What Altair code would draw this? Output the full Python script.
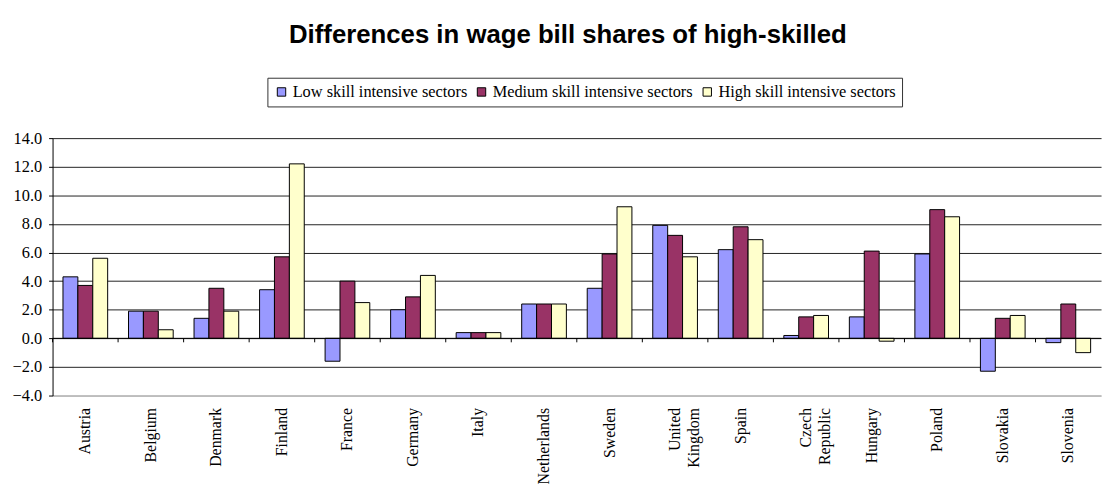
import altair as alt
import pandas as pd

countries = ["Austria", "Belgium", "Denmark", "Finland", "France", "Germany", "Italy",
             "Netherlands", "Sweden", "United Kingdom", "Spain", "Czech Republic",
             "Hungary", "Poland", "Slovakia", "Slovenia"]
series = ["Low skill intensive sectors", "Medium skill intensive sectors",
          "High skill intensive sectors"]
low = [4.3, 1.9, 1.4, 3.4, -1.6, 2.0, 0.4, 2.4, 3.5, 7.9, 6.2, 0.2, 1.5, 5.9, -2.3, -0.3]
medium = [3.7, 1.9, 3.5, 5.7, 4.0, 2.9, 0.4, 2.4, 5.9, 7.2, 7.8, 1.5, 6.1, 9.0, 1.4, 2.4]
high = [5.6, 0.6, 1.9, 12.2, 2.5, 4.4, 0.4, 2.4, 9.2, 5.7, 6.9, 1.6, -0.2, 8.5, 1.6, -1.0]
colors = ["#9999FF", "#993366", "#FFFFCC"]
y_ticks = [-4, -2, 0, 2, 4, 6, 8, 10, 12, 14]

rows = []
for vals, s in zip([low, medium, high], series):
    for c, v in zip(countries, vals):
        rows.append({"country": c, "series": s, "value": v})
df = pd.DataFrame(rows)

serif = "Liberation Serif"
label_expr = ("datum.label == 'United Kingdom' ? ['United', 'Kingdom'] : "
              "datum.label == 'Czech Republic' ? ['Czech', 'Republic'] : datum.label")

x_axis = alt.Axis(title=None, labelAngle=270, labelAlign="right", labelBaseline="middle",
                  ticks=False, domain=True,
                  domainColor="#aaaaaa", labelFont=serif, labelFontSize=16,
                  labelColor="black", labelPadding=12, labelLineHeight=19,
                  labelExpr=label_expr, labelLimit=300, labelOverlap=False)
x_scale = alt.Scale(paddingInner=0, paddingOuter=0)

y_axis = alt.Axis(values=y_ticks, tickCount=10, format=".1f", title=None, grid=True,
                  gridColor=alt.condition("datum.value === -4", alt.value("#aaaaaa"),
                                          alt.value("#222222")),
                  tickColor="black", domainColor="black", tickSize=4,
                  labelFont=serif, labelFontSize=16.5, labelColor="black", labelPadding=7,
                  labelOverlap=False)
y_scale = alt.Scale(domain=[-4, 14], nice=False)

bars = alt.Chart(df).mark_bar(stroke="black", strokeWidth=1).encode(
    x=alt.X("country:N", sort=countries, scale=x_scale, axis=x_axis),
    xOffset=alt.XOffset("series:N", sort=series,
                        scale=alt.Scale(paddingInner=0, paddingOuter=0.7)),
    y=alt.Y("value:Q", scale=y_scale, axis=y_axis),
    fill=alt.Fill("series:N", sort=series,
                  scale=alt.Scale(domain=series, range=colors),
                  legend=alt.Legend(orient="none", legendX=217, legendY=-61,
                                    direction="horizontal", title=None,
                                    labelFont=serif, labelFontSize=16.5, labelColor="black",
                                    symbolType="square", symbolSize=72,
                                    symbolStrokeColor="black", symbolStrokeWidth=1,
                                    strokeColor="#333333", padding=6, columnPadding=6,
                                    labelOffset=3, labelLimit=400)),
)

zero = alt.Chart(pd.DataFrame({"z": [0]})).mark_rule(color="black", strokeWidth=1).encode(
    y=alt.Y("z:Q", scale=y_scale, axis=y_axis)
)

ticks = alt.Chart(pd.DataFrame({"country": countries, "z": [0] * len(countries)})).mark_rule(
    color="black", strokeWidth=1, y2Offset=4
).encode(
    x=alt.X("country:N", sort=countries, bandPosition=0, scale=x_scale, axis=x_axis),
    y=alt.Y("z:Q", scale=y_scale, axis=y_axis),
    y2="z:Q",
)

chart = alt.layer(bars, zero, ticks).properties(
    width=1059, height=260,
    padding={"left": 4, "top": 11, "right": 5, "bottom": 5},
    title=alt.TitleParams("Differences in wage bill shares of high-skilled",
                          font="Liberation Sans", fontSize=26, fontWeight="bold",
                          color="black", anchor="middle", offset=30, dx=-9),
).configure_view(stroke=None)

chart.save("out.html", embed_options={"renderer": "svg", "actions": False})
